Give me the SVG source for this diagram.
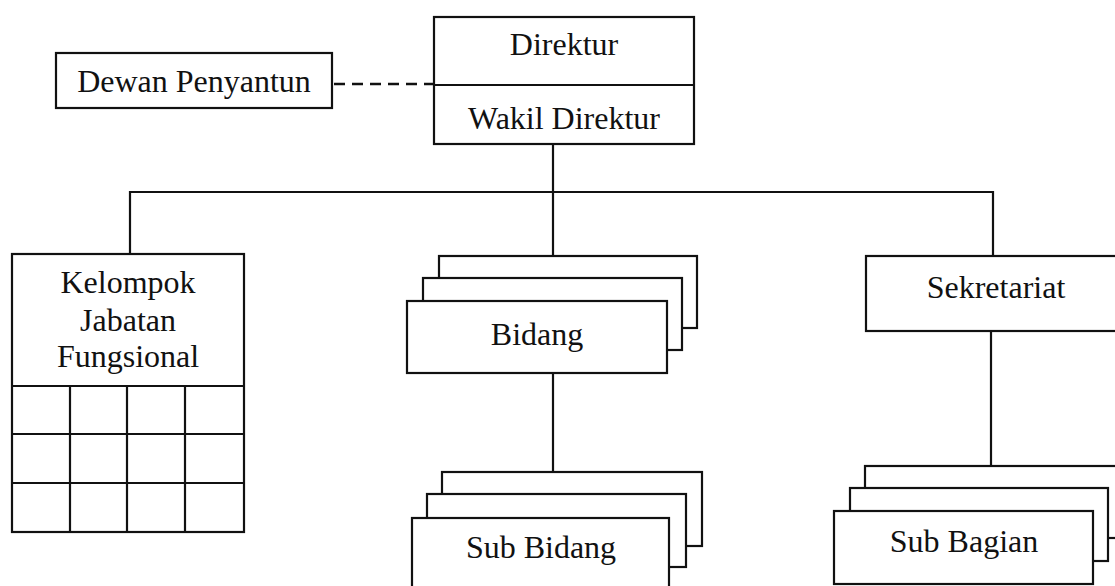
<svg xmlns="http://www.w3.org/2000/svg" width="1115" height="586" viewBox="0 0 1115 586">
<style>
.box{fill:#fff;stroke:#111;stroke-width:2.2}
.ln{fill:none;stroke:#111;stroke-width:2.2}
.dash{fill:none;stroke:#111;stroke-width:2.6;stroke-dasharray:11 7}
text{font-family:"Liberation Serif","Times New Roman",serif;font-size:32px;fill:#111;text-anchor:middle}
</style>
<rect width="1115" height="586" fill="#fff"/>
<g id="connectors">
<line class="dash" x1="334" y1="84" x2="434" y2="84"/>
<line class="ln" x1="553" y1="144" x2="553" y2="256"/>
<polyline class="ln" points="130,254 130,192 993,192 993,256"/>
<line class="ln" x1="553" y1="373" x2="553" y2="472"/>
<line class="ln" x1="991" y1="331" x2="991" y2="466"/>
</g>
<g id="dewan-penyantun">
<rect class="box" x="56" y="53" width="276" height="55"/>
<text x="194" y="92">Dewan Penyantun</text>
</g>
<g id="direktur">
<rect class="box" x="434" y="17" width="260" height="127"/>
<line class="ln" x1="434" y1="85" x2="694" y2="85"/>
<text x="564" y="55">Direktur</text>
<text x="564" y="129">Wakil Direktur</text>
</g>
<g id="kelompok-jabatan-fungsional">
<rect class="box" x="12" y="254" width="232" height="278"/>
<line class="ln" x1="12" y1="386" x2="244" y2="386"/>
<line class="ln" x1="12" y1="434" x2="244" y2="434"/>
<line class="ln" x1="12" y1="483" x2="244" y2="483"/>
<line class="ln" x1="70" y1="386" x2="70" y2="532"/>
<line class="ln" x1="127" y1="386" x2="127" y2="532"/>
<line class="ln" x1="185" y1="386" x2="185" y2="532"/>
<text x="128" y="293">Kelompok</text>
<text x="128" y="331">Jabatan</text>
<text x="128" y="367">Fungsional</text>
</g>
<g id="bidang">
<rect class="box" x="439" y="256" width="258" height="72"/>
<rect class="box" x="423" y="278" width="259" height="72"/>
<rect class="box" x="407" y="301" width="260" height="72"/>
<text x="537" y="345">Bidang</text>
</g>
<g id="sekretariat">
<rect class="box" x="866" y="256" width="260" height="75"/>
<text x="996" y="298">Sekretariat</text>
</g>
<g id="sub-bidang">
<rect class="box" x="442" y="472" width="260" height="74"/>
<rect class="box" x="427" y="494" width="259" height="73"/>
<rect class="box" x="412" y="518" width="257" height="80"/>
<text x="541" y="558">Sub Bidang</text>
</g>
<g id="sub-bagian">
<rect class="box" x="865" y="466" width="260" height="72"/>
<rect class="box" x="850" y="488" width="258" height="73"/>
<rect class="box" x="834" y="511" width="259" height="73"/>
<text x="964" y="552">Sub Bagian</text>
</g>
</svg>
